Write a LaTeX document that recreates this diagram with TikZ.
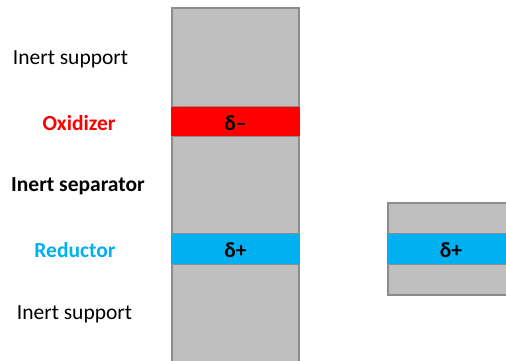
\documentclass[tikz,border=0pt]{standalone}
\usepackage{fontspec}
\setmainfont{Carlito}
\definecolor{inertfill}{HTML}{BFBFBF}
\definecolor{inertline}{HTML}{8C8C8C}
\definecolor{oxred}{HTML}{FF0000}
\definecolor{redblue}{HTML}{00B0F0}
\begin{document}
\begin{tikzpicture}[x=1pt,y=-1pt,
  inert/.style={fill=inertfill,draw=inertline,line width=1.2pt},
  band/.style={draw=none},
  lbl/.style={font=\fontsize{21.5}{24}\selectfont,inner sep=0pt},
  blbl/.style={font=\bfseries\fontsize{21.5}{24}\selectfont,inner sep=0pt},
  dlt/.style={font=\bfseries\fontsize{21.5}{24}\selectfont,inner sep=0pt}]
\useasboundingbox (0,0) rectangle (506,360);
% left column
\path[inert] (172,8) rectangle (299,107);
\path[inert] (172,136) rectangle (299,234);
\path[inert] (172,264) rectangle (299,365);
\path[band,fill=oxred] (171.4,107) rectangle (299.6,136);
\path[band,fill=redblue] (171.4,234) rectangle (299.6,264);
\node[dlt] (dm) at (235.5,123) {δ–};
\node[dlt] (dp) at (235.5,250) {δ+};
% right block
\path[inert] (388,203) rectangle (510,234);
\path[inert] (388,264) rectangle (510,295);
\path[band,fill=redblue] (387.4,234) rectangle (510,264);
\node[dlt] (dp2) at (451,250) {δ+};
% labels
\node[lbl] (is1) at (70.5,59) {Inert support};
\node[blbl,text=oxred] (ox) at (79,123) {Oxidizer};
\node[blbl] (sep) at (78,186) {Inert separator};
\node[blbl,text=redblue] (red) at (75,250) {Reductor};
\node[lbl] (is2) at (74.5,314) {Inert support};
\end{tikzpicture}
\end{document}
